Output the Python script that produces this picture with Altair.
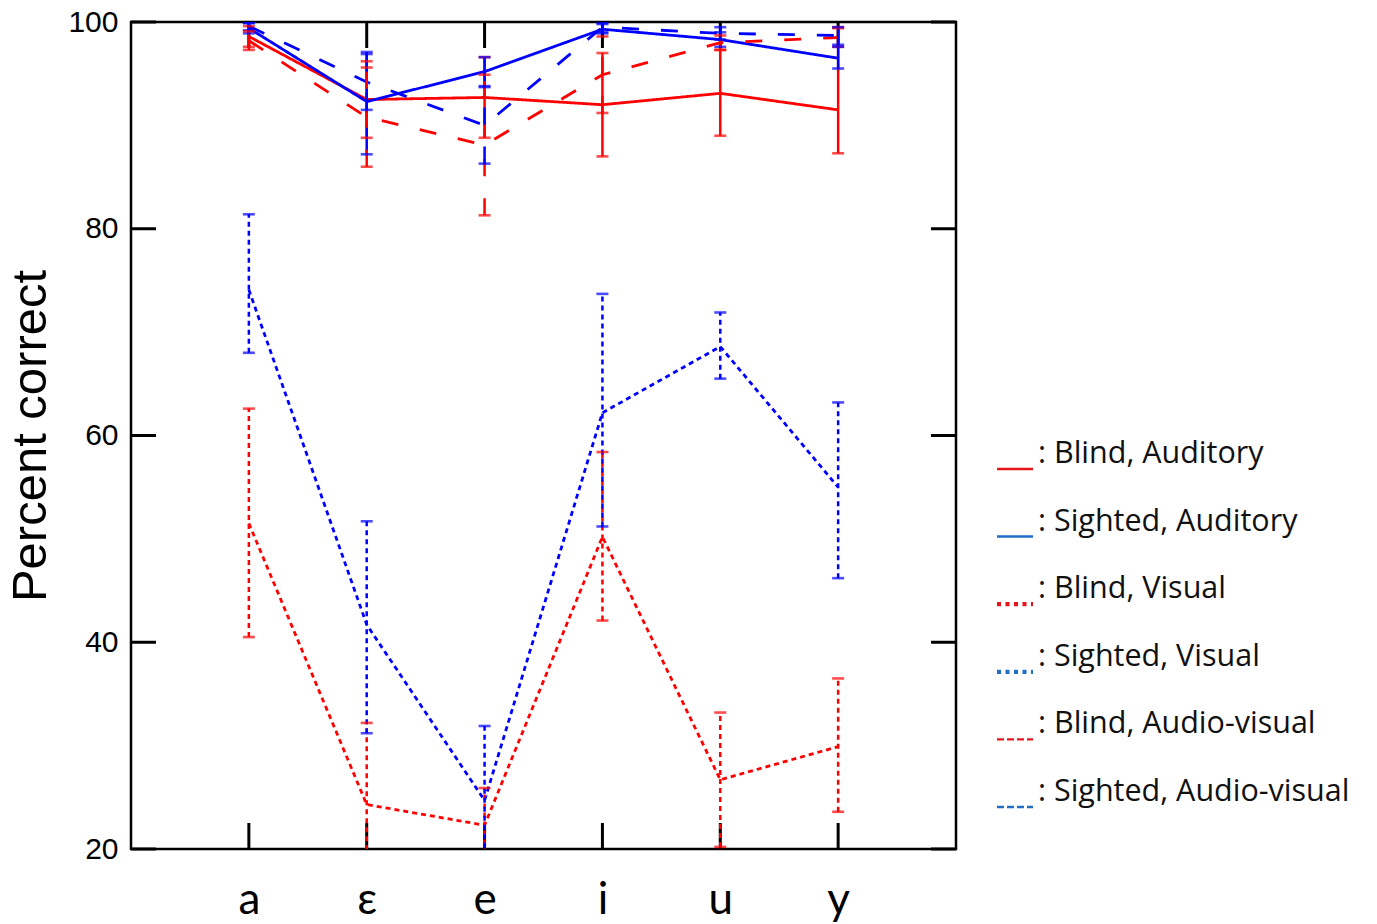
import json
import altair as alt
import pandas as pd

# ---------------- data ----------------
vowels = ["a", "ε", "e", "i", "u", "y"]
series = ["Blind, Auditory", "Sighted, Auditory", "Blind, Visual",
          "Sighted, Visual", "Blind, Audio-visual", "Sighted, Audio-visual"]

ba_mean = [98.6, 92.5, 92.7, 92.0, 93.1, 91.5]
ba_lo = [97.6, 88.8, 88.8, 87.0, 89.0, 87.3]
ba_hi = [99.6, 96.2, 96.6, 97.0, 97.3, 99.5]

sa_mean = [99.4, 92.3, 95.2, 99.3, 98.3, 96.5]
sa_lo = [98.9, 87.2, 93.8, 98.9, 97.6, 95.5]
sa_hi = [99.9, 97.1, 96.6, 99.8, 99.0, 97.6]

bv_mean = [51.5, 24.3, 22.3, 50.2, 26.7, 29.9]
bv_lo = [40.5, 16.4, 18.7, 42.1, 20.2, 23.6]
bv_hi = [62.6, 32.2, 25.9, 58.4, 33.2, 36.5]

sv_mean = [74.1, 41.7, 24.7, 62.2, 68.6, 55.0]
sv_lo = [68.0, 31.2, 17.5, 51.2, 65.5, 46.2]
sv_hi = [81.4, 51.7, 31.9, 73.7, 71.9, 63.2]

bav_mean = [98.2, 90.8, 88.1, 94.9, 98.0, 98.5]
bav_lo = [97.3, 86.0, 81.3, 91.2, 97.3, 97.6]
bav_hi = [99.1, 95.6, 94.9, 98.6, 98.7, 99.4]

sav_mean = [99.6, 94.2, 90.0, 99.5, 98.9, 98.7]
sav_lo = [99.2, 91.5, 86.3, 99.0, 98.3, 97.8]
sav_hi = [99.9, 96.9, 93.7, 99.9, 99.5, 99.5]

y_ticks = [20, 40, 60, 80, 100]

# ---------------- styles ----------------
line_colors = ["#ff0000", "#0000ff", "#ff0000", "#0000ff", "#ff0000", "#0000ff"]
line_dash = [[1, 0], [1, 0], [5, 4], [5, 4], [17, 22], [17, 22]]
legend_colors = ["#e8141c", "#1f6fc9", "#e8141c", "#1f6fc9", "#e8141c", "#1f6fc9"]
legend_dash = [[1, 0], [1, 0], [4, 4.5], [4, 4.5], [7, 3], [7, 3]]
legend_width = [2.5, 2.5, 4.2, 4.2, 2.4, 2.4]

W, H = 825, 827

groups = [(ba_mean, ba_lo, ba_hi), (sa_mean, sa_lo, sa_hi),
          (bv_mean, bv_lo, bv_hi), (sv_mean, sv_lo, sv_hi),
          (bav_mean, bav_lo, bav_hi), (sav_mean, sav_lo, sav_hi)]
rows = []
for s, (m, lo, hi) in zip(series, groups):
    for i, v in enumerate(vowels):
        rows.append(dict(series=s, vowel=v, pos=i + 1, mean=m[i], lo=lo[i], hi=hi[i]))
df = pd.DataFrame(rows)

label_js = "[" + ",".join(json.dumps(v, ensure_ascii=False) for v in [""] + vowels) + "][datum.value]"

x_scale = alt.Scale(domain=[0, len(vowels) + 1], nice=False, zero=False)
y_scale = alt.Scale(domain=[20, 100], nice=False, zero=False)

x_axis = alt.Axis(values=list(range(1, len(vowels) + 1)), labelExpr=label_js,
                  labelFont="Lato", labelFontSize=44, labelColor="black",
                  labelBaseline="alphabetic", labelPadding=64,
                  labelFlush=False, labelOverlap=False,
                  domain=False, ticks=False, grid=False, title=None)
y_axis = alt.Axis(values=y_ticks, labelFont="Liberation Sans", labelFontSize=30,
                  labelColor="black", labelPadding=13, labelOverlap=False,
                  title="Percent correct", titleFont="Liberation Sans",
                  titleFontSize=49, titleFontWeight="normal", titleColor="black",
                  titlePadding=12, domain=False, ticks=False, grid=False)

X = alt.X("pos:Q", scale=x_scale, axis=x_axis)
color = alt.Color("series:N", scale=alt.Scale(domain=series, range=line_colors), legend=None)
dash = alt.StrokeDash("series:N", scale=alt.Scale(domain=series, range=line_dash), legend=None)

base = alt.Chart(df)

lines = base.mark_line(strokeWidth=2.8).encode(
    x=X, y=alt.Y("mean:Q", scale=y_scale, axis=y_axis),
    color=color, strokeDash=dash)
err = base.mark_rule(strokeWidth=2.5, clip=True).encode(
    x=X, y=alt.Y("lo:Q", scale=y_scale, axis=y_axis), y2="hi:Q",
    color=color, strokeDash=dash)
cap_lo = base.mark_tick(orient="horizontal", size=12, thickness=2.6, clip=True).encode(
    x=X, y=alt.Y("lo:Q", scale=y_scale, axis=y_axis), color=color)
cap_hi = base.mark_tick(orient="horizontal", size=12, thickness=2.6, clip=True).encode(
    x=X, y=alt.Y("hi:Q", scale=y_scale, axis=y_axis), color=color)

ytick_df = pd.DataFrame({"v": y_ticks})
xtick_df = pd.DataFrame({"pos": list(range(1, len(vowels) + 1))})
tick_style = dict(color="black", strokeWidth=3)
yt_left = alt.Chart(ytick_df).mark_rule(**tick_style).encode(
    y=alt.Y("v:Q", scale=y_scale, axis=y_axis), x=alt.value(0), x2=alt.value(25))
yt_right = alt.Chart(ytick_df).mark_rule(**tick_style).encode(
    y=alt.Y("v:Q", scale=y_scale, axis=y_axis), x=alt.value(W - 25), x2=alt.value(W))
xt_bot = alt.Chart(xtick_df).mark_rule(**tick_style).encode(
    x=X, y=alt.value(H - 26), y2=alt.value(H))
xt_top = alt.Chart(xtick_df).mark_rule(**tick_style).encode(
    x=X, y=alt.value(0), y2=alt.value(26))

main = alt.layer(yt_left, yt_right, xt_bot, xt_top, lines, err, cap_lo, cap_hi).properties(
    width=W, height=H,
    view=alt.ViewBackground(stroke="black", strokeWidth=2.5))

# ---------------- custom legend ----------------
ROW0, STEP = 441, 67.6
leg_df = pd.DataFrame({"series": series, "row": list(range(len(series))),
                       "label": [": " + s for s in series],
                       "sw": legend_width})
leg_y = alt.Y("row:Q", axis=None,
              scale=alt.Scale(domain=[-ROW0 / STEP, (H - ROW0) / STEP],
                              reverse=True, nice=False, zero=False))
sym = alt.Chart(leg_df).mark_rule(yOffset=6).encode(
    x=alt.value(2), x2=alt.value(38), y=leg_y,
    color=alt.Color("series:N", scale=alt.Scale(domain=series, range=legend_colors), legend=None),
    strokeDash=alt.StrokeDash("series:N", scale=alt.Scale(domain=series, range=legend_dash), legend=None),
    strokeWidth=alt.StrokeWidth("sw:Q", scale=None, legend=None))
txt = alt.Chart(leg_df).mark_text(align="left", baseline="alphabetic", font="Open Sans",
                                  fontSize=30.5, color="#111111").encode(
    x=alt.value(43), y=leg_y, text="label:N")
legend = alt.layer(sym, txt).properties(
    width=375, height=H, view=alt.ViewBackground(strokeOpacity=0))

chart = alt.hconcat(main, legend, spacing=35).resolve_scale(
    color="independent", strokeDash="independent", strokeWidth="independent",
    x="independent", y="independent").properties(
    padding={"left": 5, "top": 5, "right": 0, "bottom": 0},
    background="white")

chart.save("out.html", embed_options={"renderer": "svg", "actions": False})
